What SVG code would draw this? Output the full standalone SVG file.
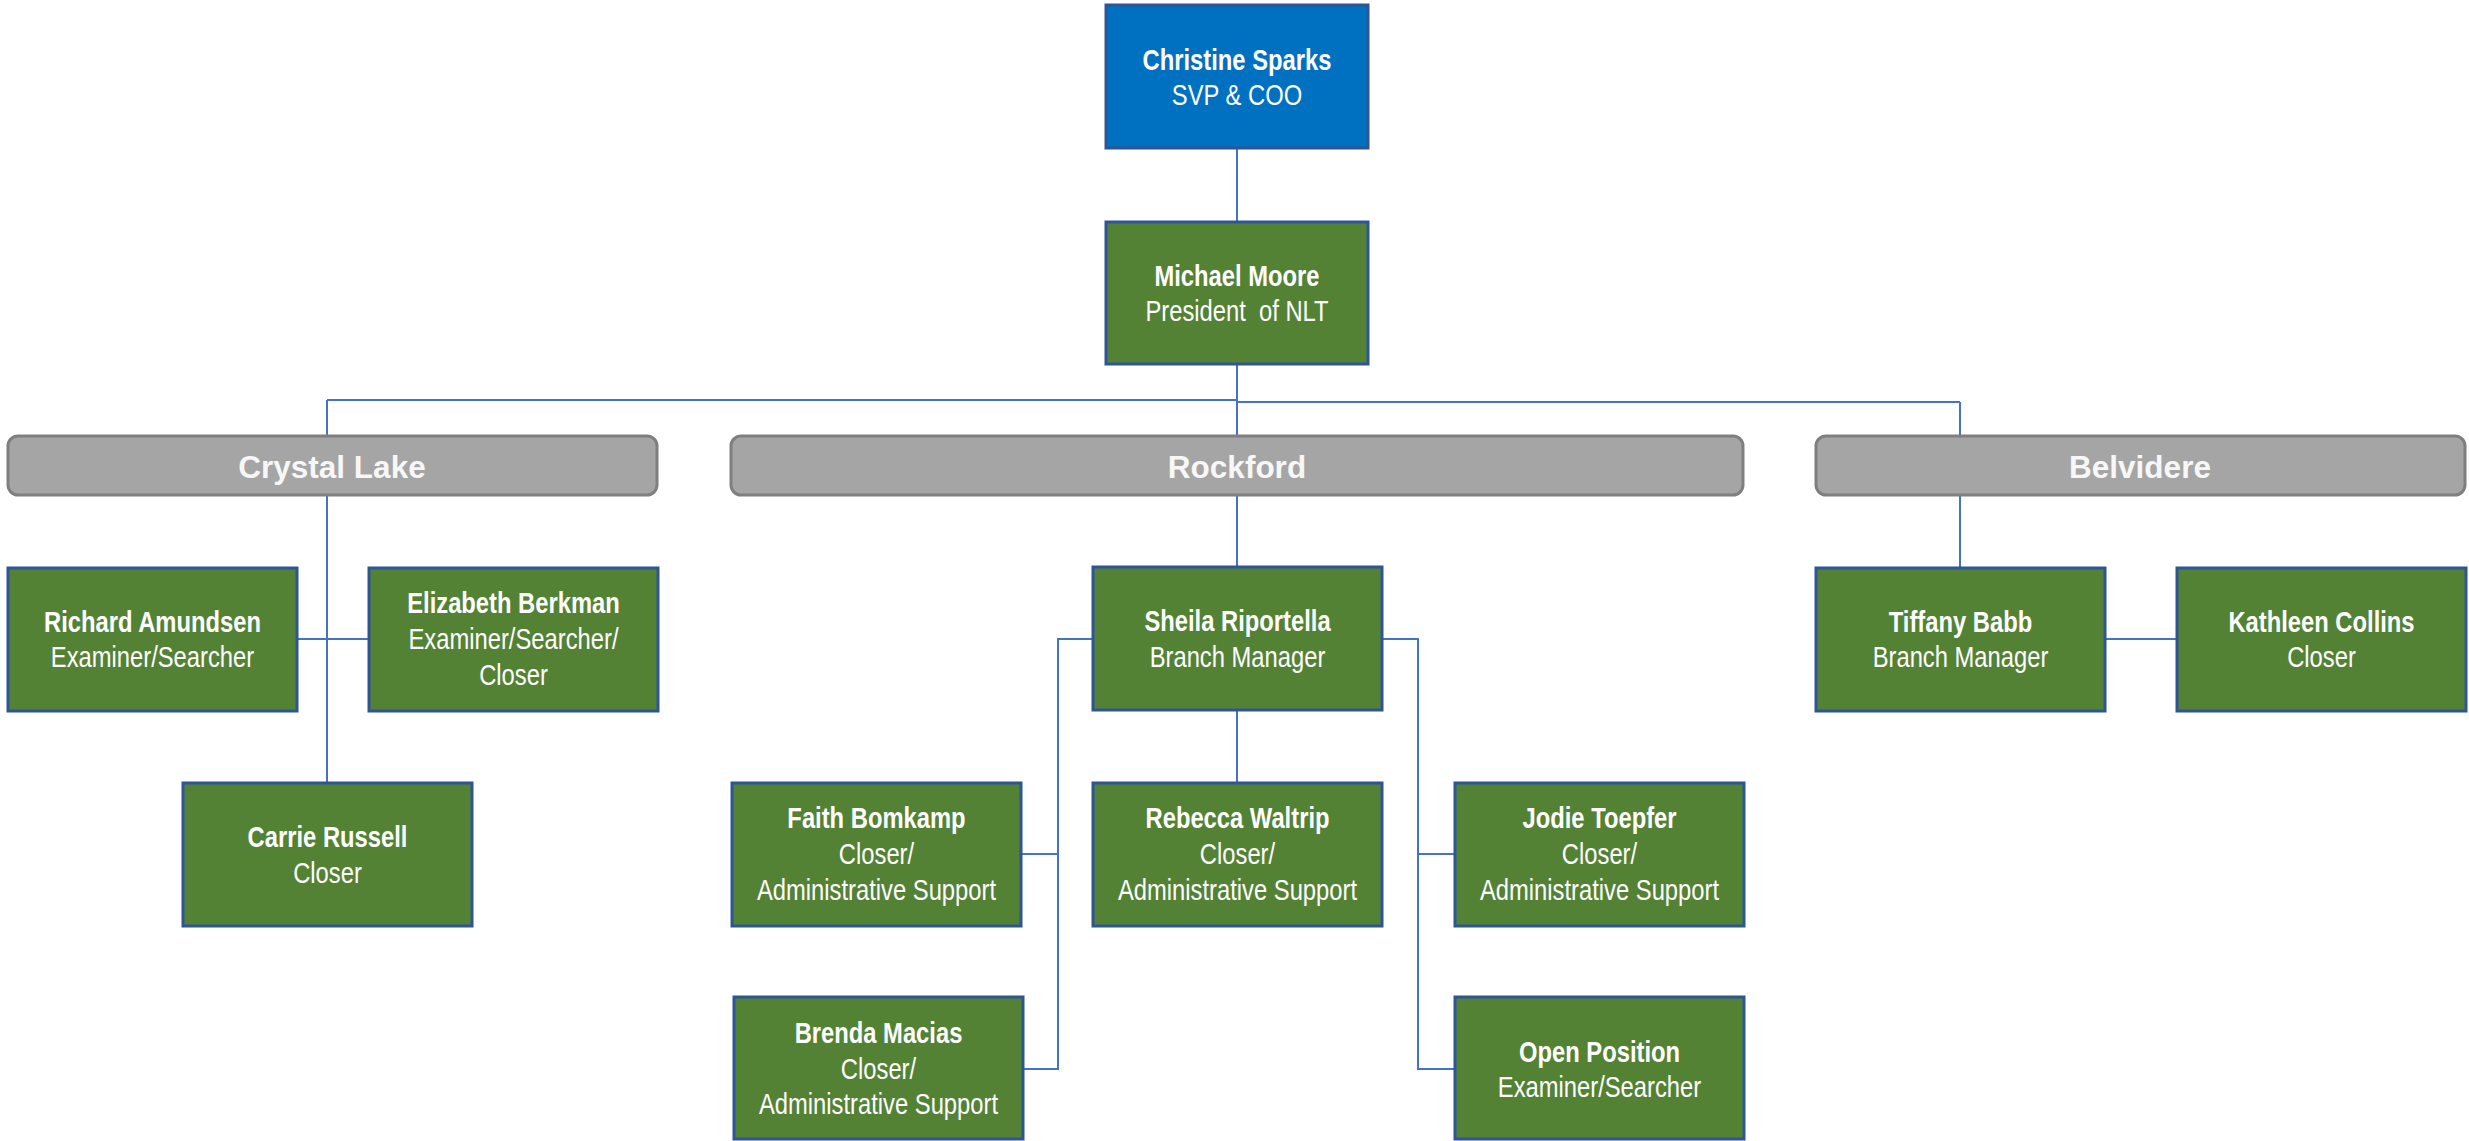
<svg xmlns="http://www.w3.org/2000/svg" width="2469" height="1141" viewBox="0 0 2469 1141">
<style>
.box{fill:#548235;stroke:#2F5597;stroke-width:3}
.top{fill:#0070C0;stroke:#2F5597;stroke-width:3}
.bar{fill:#A5A5A5;stroke:#7F7F7F;stroke-width:3}
.t{font-family:"Liberation Sans",Arial,sans-serif;font-size:29px;fill:#FFFFFF;text-anchor:middle}
.n{font-weight:bold}
.b{font-family:"Liberation Sans",Arial,sans-serif;font-size:31.5px;font-weight:bold;fill:#F7F7F7;text-anchor:middle}
.c{fill:none;stroke:#4472C4;stroke-width:2}
</style>
<rect width="2469" height="1141" fill="#FFFFFF"/>
<g id="connectors" class="c">
<path d="M1237,148V222"/>
<path d="M1237,364V436"/>
<path d="M327,400H1237"/>
<path d="M1237,402H1960"/>
<path d="M327,400V436"/>
<path d="M1960,402V436"/>
<path d="M327,495V783"/>
<path d="M297,639H369"/>
<path d="M1237,495V567"/>
<path d="M1237,710V783"/>
<path d="M1093,639H1058V1069H1023"/>
<path d="M1058,854H1021"/>
<path d="M1382,639H1418V1069H1455"/>
<path d="M1418,854H1455"/>
<path d="M1960,495V568"/>
<path d="M2105,639H2177"/>
</g>
<g id="christine">
<rect class="top" x="1106" y="5" width="262" height="143"/>
<text class="t" transform="matrix(0.82 0 0 1 1237 0)"><tspan class="n" x="0" y="70">Christine Sparks</tspan><tspan x="0" y="105">SVP &amp; COO</tspan></text>
</g>
<g id="michael">
<rect class="box" x="1106" y="222" width="262" height="142"/>
<text class="t" xml:space="preserve" transform="matrix(0.82 0 0 1 1237 0)"><tspan class="n" x="0" y="286">Michael Moore</tspan><tspan x="0" y="321">President  of NLT</tspan></text>
</g>
<g id="crystal-lake">
<rect class="bar" x="8" y="436" width="649" height="59" rx="10"/>
<text class="b" x="332" y="478">Crystal Lake</text>
</g>
<g id="rockford">
<rect class="bar" x="731" y="436" width="1012" height="59" rx="10"/>
<text class="b" x="1237" y="478">Rockford</text>
</g>
<g id="belvidere">
<rect class="bar" x="1816" y="436" width="649" height="59" rx="10"/>
<text class="b" x="2140" y="478">Belvidere</text>
</g>
<g id="richard">
<rect class="box" x="8" y="568" width="289" height="143"/>
<text class="t" transform="matrix(0.82 0 0 1 152.5 0)"><tspan class="n" x="0" y="632">Richard Amundsen</tspan><tspan x="0" y="667">Examiner/Searcher</tspan></text>
</g>
<g id="elizabeth">
<rect class="box" x="369" y="568" width="289" height="143"/>
<text class="t" transform="matrix(0.82 0 0 1 513.5 0)"><tspan class="n" x="0" y="613">Elizabeth Berkman</tspan><tspan x="0" y="649">Examiner/Searcher/</tspan><tspan x="0" y="685">Closer</tspan></text>
</g>
<g id="carrie">
<rect class="box" x="183" y="783" width="289" height="143"/>
<text class="t" transform="matrix(0.82 0 0 1 327.5 0)"><tspan class="n" x="0" y="847">Carrie Russell</tspan><tspan x="0" y="883">Closer</tspan></text>
</g>
<g id="sheila">
<rect class="box" x="1093" y="567" width="289" height="143"/>
<text class="t" transform="matrix(0.82 0 0 1 1237.5 0)"><tspan class="n" x="0" y="631">Sheila Riportella</tspan><tspan x="0" y="667">Branch Manager</tspan></text>
</g>
<g id="faith">
<rect class="box" x="732" y="783" width="289" height="143"/>
<text class="t" transform="matrix(0.82 0 0 1 876.5 0)"><tspan class="n" x="0" y="828">Faith Bomkamp</tspan><tspan x="0" y="864">Closer/</tspan><tspan x="0" y="900">Administrative Support</tspan></text>
</g>
<g id="rebecca">
<rect class="box" x="1093" y="783" width="289" height="143"/>
<text class="t" transform="matrix(0.82 0 0 1 1237.5 0)"><tspan class="n" x="0" y="828">Rebecca Waltrip</tspan><tspan x="0" y="864">Closer/</tspan><tspan x="0" y="900">Administrative Support</tspan></text>
</g>
<g id="jodie">
<rect class="box" x="1455" y="783" width="289" height="143"/>
<text class="t" transform="matrix(0.82 0 0 1 1599.5 0)"><tspan class="n" x="0" y="828">Jodie Toepfer</tspan><tspan x="0" y="864">Closer/</tspan><tspan x="0" y="900">Administrative Support</tspan></text>
</g>
<g id="brenda">
<rect class="box" x="734" y="997" width="289" height="142"/>
<text class="t" transform="matrix(0.82 0 0 1 878.5 0)"><tspan class="n" x="0" y="1043">Brenda Macias</tspan><tspan x="0" y="1079">Closer/</tspan><tspan x="0" y="1114">Administrative Support</tspan></text>
</g>
<g id="open-position">
<rect class="box" x="1455" y="997" width="289" height="142"/>
<text class="t" transform="matrix(0.82 0 0 1 1599.5 0)"><tspan class="n" x="0" y="1062">Open Position</tspan><tspan x="0" y="1097">Examiner/Searcher</tspan></text>
</g>
<g id="tiffany">
<rect class="box" x="1816" y="568" width="289" height="143"/>
<text class="t" transform="matrix(0.82 0 0 1 1960.5 0)"><tspan class="n" x="0" y="632">Tiffany Babb</tspan><tspan x="0" y="667">Branch Manager</tspan></text>
</g>
<g id="kathleen">
<rect class="box" x="2177" y="568" width="289" height="143"/>
<text class="t" transform="matrix(0.82 0 0 1 2321.5 0)"><tspan class="n" x="0" y="632">Kathleen Collins</tspan><tspan x="0" y="667">Closer</tspan></text>
</g>
</svg>
